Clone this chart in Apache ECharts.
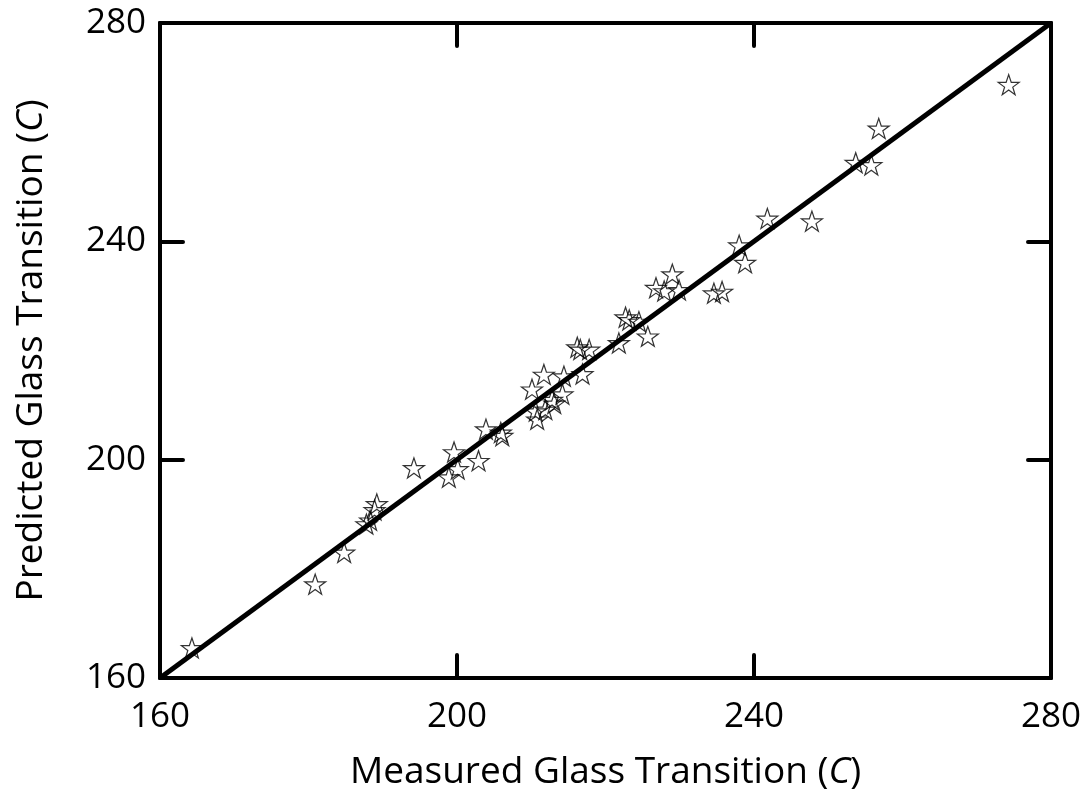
<!DOCTYPE html>
<html>
<head>
<meta charset="utf-8">
<script src="https://cdn.jsdelivr.net/npm/echarts@6/dist/echarts.min.js"></script>
<style>
  html, body { margin: 0; padding: 0; background: #fff; }
  #chart { width: 1092px; height: 796px; }
</style>
</head>
<body>
<div id="chart"></div>
<script>
// measured vs predicted glass transition
var measured = [164.3, 180.9, 184.8, 187.8, 188.3, 189.2, 188.9, 194.2, 198.9, 200.1,
  199.6, 202.9, 203.9, 205.9, 206.1, 210.1, 211.7, 214.4, 216.9, 210.6,
  210.8, 211.9, 212.8, 213.1, 214.2, 216.2, 216.6, 217.8, 221.8, 222.7,
  223.2, 224.5, 225.7, 229.0, 226.8, 227.9, 229.9, 234.6, 235.7, 238.0,
  238.8, 241.8, 247.8, 253.7, 255.8, 256.8, 274.3];
var predicted = [165.5, 177.2, 183.0, 188.2, 188.9, 191.9, 190.8, 198.5, 196.8, 198.3,
  201.4, 199.8, 205.6, 205.0, 204.4, 212.9, 215.6, 215.3, 215.7, 208.9,
  207.4, 209.2, 211.0, 210.3, 212.0, 220.6, 220.2, 220.2, 221.4, 226.1,
  225.6, 225.3, 222.6, 234.0, 231.5, 230.9, 231.1, 230.5, 230.8, 239.3,
  236.1, 244.2, 243.7, 254.4, 254.0, 260.7, 268.7];
var parityX = [160, 280];
var parityY = [160, 280];
var ticks = [160, 200, 240, 280];

var fontFamily = "'Comic Sans MS', 'Open Sans', sans-serif";
var star = 'path://M50,0 L61.8,35.1 L98.1,35.1 L68.8,56.7 L79.4,91 L50,70 L20.6,91 L31.2,56.7 L1.9,35.1 L38.2,35.1 Z';

var points = measured.map(function (m, i) { return [m, predicted[i]]; });
var line = parityX.map(function (x, i) { return [x, parityY[i]]; });

function axisBase(pos, showLabel) {
  return {
    type: 'value',
    position: pos,
    min: ticks[0],
    max: ticks[ticks.length - 1],
    interval: 40,
    splitLine: { show: false },
    axisLine: { show: true, onZero: false, lineStyle: { color: '#000', width: 4, cap: 'round' } },
    axisTick: { show: true, inside: true, length: 23, lineStyle: { color: '#000', width: 4, cap: 'round' } },
    axisLabel: { show: showLabel, color: '#000', fontSize: 35, fontFamily: fontFamily }
  };
}

var myChart = echarts.init(document.getElementById('chart'));

var titleStyle = {
  rich: {
    n: { color: '#000', fontSize: 37, fontFamily: fontFamily },
    i: { color: '#000', fontSize: 37, fontFamily: fontFamily, fontStyle: 'italic' }
  }
};

var xBottom = axisBase('bottom', true);
xBottom.axisLabel.margin = 22;
xBottom.name = '{n|Measured Glass Transition (}{i|C}{n|)}';
xBottom.nameLocation = 'middle';
xBottom.nameGap = 76;
xBottom.nameTextStyle = titleStyle;
var xTop = axisBase('top', false);

var yLeft = axisBase('left', true);
yLeft.axisLabel.margin = 14;
yLeft.name = '{n|Predicted Glass Transition (}{i|C}{n|)}';
yLeft.nameLocation = 'middle';
yLeft.nameGap = 110;
yLeft.nameTextStyle = titleStyle;
var yRight = axisBase('right', false);

var option = {
  backgroundColor: '#fff',
  animation: false,
  grid: { left: 160, right: 41, top: 23, bottom: 114, containLabel: false },
  xAxis: [xBottom, xTop],
  yAxis: [yLeft, yRight],
  series: [
    {
      name: 'data',
      type: 'scatter',
      xAxisIndex: 0,
      yAxisIndex: 0,
      symbol: star,
      symbolSize: [21, 20],
      itemStyle: { color: 'rgba(0,0,0,0)', borderColor: '#000', borderWidth: 1.2 },
      data: points,
      z: 3
    },
    {
      name: 'parity',
      type: 'line',
      xAxisIndex: 0,
      yAxisIndex: 0,
      symbol: 'none',
      lineStyle: { color: '#000', width: 5 },
      data: line,
      z: 2
    }
  ]
};

myChart.setOption(option);
</script>
</body>
</html>
